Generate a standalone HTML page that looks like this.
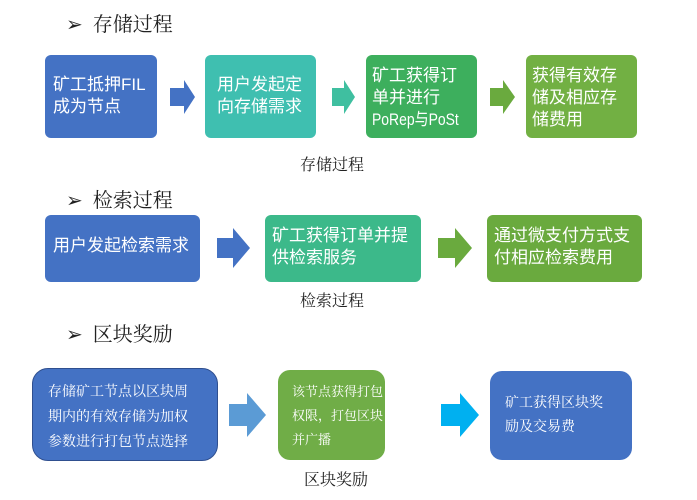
<!DOCTYPE html>
<html><head><meta charset="utf-8"><style>
body{margin:0;width:697px;height:500px;background:#fff;position:relative;overflow:hidden;font-family:"Liberation Sans","Noto Sans CJK SC",sans-serif;}
.b{position:absolute;color:#fff;box-sizing:border-box;border-radius:6px;font-size:17px;line-height:22px;white-space:nowrap;overflow:hidden;}
.s{font-family:"Liberation Serif","Noto Serif CJK SC",serif;}
.h{position:absolute;font-family:"Liberation Serif","Noto Serif CJK SC",serif;font-size:20px;color:#222;}
.c{position:absolute;font-family:"Liberation Serif","Noto Serif CJK SC",serif;font-size:16px;color:#222;}
svg{position:absolute;left:0;top:0}
</style></head><body>
<div class="h" style="left:66px;top:8px">➢&nbsp;&nbsp;存储过程</div>
<div class="h" style="left:66px;top:184px">➢&nbsp;&nbsp;检索过程</div>
<div class="h" style="left:66px;top:318px">➢&nbsp;&nbsp;区块奖励</div>

<div class="b" style="left:45px;top:55px;width:112px;height:83px;background:#4472c4;padding:19px 0 0 8px">矿工抵押FIL<br>成为节点</div>
<div class="b" style="left:205px;top:55px;width:111px;height:83px;background:#3fbfb0;padding:19px 0 0 12px">用户发起定<br>向存储需求</div>
<div class="b" style="left:366px;top:55px;width:111px;height:83px;background:#3daf5d;padding:10px 0 0 6px">矿工获得订<br>单并进行<br><span style="display:inline-block;transform:scaleX(0.82);transform-origin:left">PoRep与PoSt</span></div>
<div class="b" style="left:526px;top:55px;width:111px;height:83px;background:#72b043;padding:10px 0 0 6px">获得有效存<br>储及相应存<br>储费用</div>
<div class="c" style="left:300px;top:152px">存储过程</div>

<div class="b" style="left:45px;top:215px;width:155px;height:67px;background:#4472c4;padding:20px 0 0 8px">用户发起检索需求</div>
<div class="b" style="left:265px;top:215px;width:156px;height:67px;background:#3cb98a;padding:10px 0 0 7px">矿工获得订单并提<br>供检索服务</div>
<div class="b" style="left:487px;top:215px;width:155px;height:67px;background:#6aaa3e;padding:10px 0 0 7px">通过微支付方式支<br>付相应检索费用</div>
<div class="c" style="left:300px;top:288px">检索过程</div>

<div class="b s" style="left:32px;top:368px;width:186px;height:93px;background:#4472c4;border:1.5px solid #2f4f8f;border-radius:16px;padding:11px 0 0 15px;font-size:14px;line-height:25px">存储矿工节点以区块周<br>期内的有效存储为加权<br>参数进行打包节点选择</div>
<div class="b s" style="left:278px;top:370px;width:107px;height:90px;background:#70ad47;border-radius:12px;padding:10px 0 0 14px;font-size:13px;line-height:24px">该节点获得打包<br>权限，打包区块<br>并广播</div>
<div class="b s" style="left:490px;top:371px;width:142px;height:89px;background:#4472c4;border-radius:12px;padding:21px 0 0 15px;font-size:14px;line-height:24px">矿工获得区块奖<br>励及交易费</div>
<div class="c" style="left:304px;top:467px">区块奖励</div>

<svg width="697" height="500">
<polygon points="170,88 184,88 184,80 195,97 184,114 184,106 170,106" fill="#4472c4"/>
<polygon points="332,88 344,88 344,80 355,97 344,114 344,106 332,106" fill="#3fbfa0"/>
<polygon points="490,88 503,88 503,80 515,97 503,114 503,106 490,106" fill="#6aaa3e"/>
<polygon points="217,238 233,238 233,228 250,248 233,268 233,258 217,258" fill="#4472c4"/>
<polygon points="438,238 455,238 455,228 472,248 455,268 455,258 438,258" fill="#6aaa3e"/>
<polygon points="229,404 247,404 247,393 266,415 247,437 247,426 229,426" fill="#5b9bd5"/>
<polygon points="441,404 460,404 460,393 479,415 460,437 460,426 441,426" fill="#00b0f0"/>
</svg>
</body></html>
